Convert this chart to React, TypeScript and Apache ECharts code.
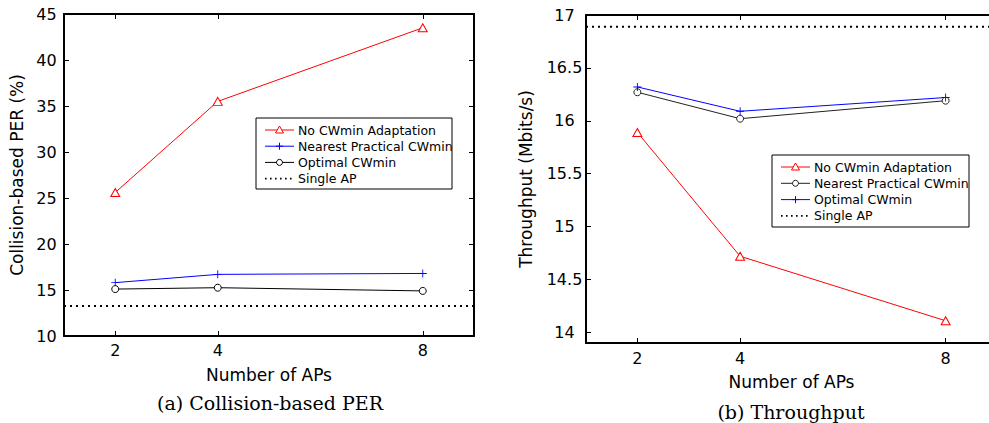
import React, { useEffect, useRef } from "react";
import * as echarts from "echarts";

// ---- data ----
const APS = [2, 4, 8];
const X_MIN = 1;
const X_MAX = 9;

const PER_NO_ADAPT = [25.6, 35.5, 43.5];
const PER_NEAREST = [15.8, 16.7, 16.8];
const PER_OPTIMAL = [15.1, 15.25, 14.9];
const PER_SINGLE_AP = 13.25;
const PER_TICKS = [10, 15, 20, 25, 30, 35, 40, 45];

const THR_NO_ADAPT = [15.89, 14.72, 14.11];
const THR_NEAREST = [16.27, 16.02, 16.19];
const THR_OPTIMAL = [16.32, 16.09, 16.22];
const THR_SINGLE_AP = 16.89;
const THR_TICKS = [14, 14.5, 15, 15.5, 16, 16.5, 17];

const NAME_NO = "No CWmin Adaptation";
const NAME_NEAREST = "Nearest Practical CWmin";
const NAME_OPT = "Optimal CWmin";
const NAME_SINGLE = "Single AP";

const RED = "#ff0000";
const BLUE = "#0000ff";
const BLACK = "#000000";
const DARK = "#222222";

const SANS = "DejaVu Sans";
const SERIF = "DejaVu Serif";

const PLUS_PATH =
  "path://M4.45,0H5.55V4.45H10V5.55H5.55V10H4.45V5.55H0V4.45H4.45Z";

const zip = (xs: number[], ys: number[]) => xs.map((x, i) => [x, ys[i]]);

type Marker = "tri" | "plus" | "circle" | "dot";
interface LegendEntry {
  name: string;
  color: string;
  marker: Marker;
}

function legendGraphic(x: number, y: number, w: number, h: number, entries: LegendEntry[], rowTop: number, rowGap: number) {
  const children: any[] = [
    {
      type: "rect",
      shape: { x: 0, y: 0, width: w, height: h },
      style: { fill: "#fff", stroke: "#000", lineWidth: 1 },
    },
  ];
  entries.forEach((e, i) => {
    const cy = rowTop + i * rowGap;
    const mx = 23.5;
    if (e.marker === "dot") {
      children.push({
        type: "line",
        shape: { x1: 9, y1: cy, x2: 38, y2: cy },
        style: { stroke: e.color, lineWidth: 1.6, lineDash: [1.6, 3.4] },
      });
    } else {
      children.push({
        type: "line",
        shape: { x1: 9, y1: cy, x2: 38, y2: cy },
        style: { stroke: e.color, lineWidth: 1 },
      });
    }
    if (e.marker === "tri") {
      children.push({
        type: "polygon",
        shape: { points: [[mx, cy - 4], [mx + 4, cy + 3], [mx - 4, cy + 3]] },
        style: { fill: "#fff", stroke: e.color, lineWidth: 1 },
      });
    } else if (e.marker === "circle") {
      children.push({
        type: "circle",
        shape: { cx: mx, cy, r: 3 },
        style: { fill: "#fff", stroke: e.color, lineWidth: 1 },
      });
    } else if (e.marker === "plus") {
      children.push({
        type: "line",
        shape: { x1: mx - 3.5, y1: cy, x2: mx + 3.5, y2: cy },
        style: { stroke: e.color, lineWidth: 1 },
      });
      children.push({
        type: "line",
        shape: { x1: mx, y1: cy - 3.5, x2: mx, y2: cy + 3.5 },
        style: { stroke: e.color, lineWidth: 1 },
      });
    }
    children.push({
      type: "text",
      x: 42,
      y: cy,
      style: {
        text: e.name,
        fontSize: 12.5,
        fontFamily: SANS,
        fill: "#000",
        verticalAlign: "middle",
        align: "left",
      },
    });
  });
  return { type: "group", x, y, children };
}

function xAxes(labelMargin: number, nameGap: number) {
  const line = { show: true, onZero: false, lineStyle: { color: "#000", width: 2 } };
  const tick = { show: true, inside: true, length: 5, customValues: APS, lineStyle: { color: "#000", width: 1 } };
  return [
    {
      type: "value",
      min: X_MIN,
      max: X_MAX,
      position: "bottom",
      axisLine: line,
      axisTick: tick,
      axisLabel: { customValues: APS, margin: labelMargin, fontSize: 16, fontFamily: SANS, color: "#000" },
      splitLine: { show: false },
      name: "Number of APs",
      nameLocation: "middle",
      nameGap,
      nameTextStyle: { fontSize: 17, fontFamily: SANS, color: "#000" },
    },
    {
      type: "value",
      min: X_MIN,
      max: X_MAX,
      position: "top",
      axisLine: line,
      axisTick: tick,
      axisLabel: { show: false },
      splitLine: { show: false },
    },
  ];
}

function yAxes(min: number, max: number, ticks: number[], labelMargin: number, name: string, nameGap: number) {
  const line = { show: true, onZero: false, lineStyle: { color: "#000", width: 2 } };
  const tick = { show: true, inside: true, length: 5, customValues: ticks, lineStyle: { color: "#000", width: 1 } };
  return [
    {
      type: "value",
      min,
      max,
      position: "left",
      axisLine: line,
      axisTick: tick,
      axisLabel: {
        customValues: ticks,
        margin: labelMargin,
        align: "center",
        fontSize: 16,
        fontFamily: SANS,
        color: "#000",
      },
      splitLine: { show: false },
      name,
      nameLocation: "middle",
      nameRotate: 90,
      nameGap,
      nameTextStyle: { fontSize: 17, fontFamily: SANS, color: "#000" },
    },
    {
      type: "value",
      min,
      max,
      position: "right",
      axisLine: line,
      axisTick: tick,
      axisLabel: { show: false },
      splitLine: { show: false },
    },
  ];
}

function lineSeries(name: string, xs: number[], ys: number[], color: string, marker: Marker) {
  const base: any = {
    type: "line",
    name,
    data: zip(xs, ys),
    lineStyle: { color, width: 1 },
    itemStyle: { color: "#fff", borderColor: color, borderWidth: 1 },
    emphasis: { disabled: true },
    z: 3,
  };
  if (marker === "tri") {
    base.symbol = "triangle";
    base.symbolSize = [9, 8];
  } else if (marker === "circle") {
    base.symbol = "circle";
    base.symbolSize = 7;
  } else if (marker === "plus") {
    base.symbol = PLUS_PATH;
    base.symbolSize = 8;
    base.itemStyle = { color, borderWidth: 0 };
  }
  return base;
}

function singleApSeries(value: number) {
  return {
    type: "line",
    name: NAME_SINGLE,
    data: [
      [X_MIN, value],
      [X_MAX, value],
    ],
    symbol: "none",
    lineStyle: { color: "#000", width: 2, type: [2, 4] },
    emphasis: { disabled: true },
    z: 2,
  };
}

function buildLeft() {
  return {
    animation: false,
    backgroundColor: "#fff",
    grid: { left: 64, top: 14, width: 410, height: 322, containLabel: false },
    xAxis: xAxes(6, 30),
    yAxis: yAxes(PER_TICKS[0], PER_TICKS[PER_TICKS.length - 1], PER_TICKS, 17.5, "Collision-based PER (%)", 38),
    series: [
      lineSeries(NAME_NO, APS, PER_NO_ADAPT, RED, "tri"),
      lineSeries(NAME_NEAREST, APS, PER_NEAREST, BLUE, "plus"),
      lineSeries(NAME_OPT, APS, PER_OPTIMAL, BLACK, "circle"),
      singleApSeries(PER_SINGLE_AP),
    ],
    graphic: [
      legendGraphic(
        256,
        118,
        196,
        71,
        [
          { name: NAME_NO, color: RED, marker: "tri" },
          { name: NAME_NEAREST, color: BLUE, marker: "plus" },
          { name: NAME_OPT, color: BLACK, marker: "circle" },
          { name: NAME_SINGLE, color: BLACK, marker: "dot" },
        ],
        12,
        16.2
      ),
      {
        type: "text",
        x: 270,
        y: 403,
        style: {
          text: "(a) Collision-based PER",
          fontSize: 19,
          fontFamily: SERIF,
          fill: "#000",
          align: "center",
          verticalAlign: "middle",
        },
      },
    ],
  };
}

function buildRight() {
  return {
    animation: false,
    backgroundColor: "#fff",
    grid: { left: 91, top: 15, width: 411, height: 328, containLabel: false },
    xAxis: xAxes(7.5, 30),
    yAxis: yAxes(13.9, THR_TICKS[THR_TICKS.length - 1], THR_TICKS, 21.5, "Throughput (Mbits/s)", 52),
    series: [
      lineSeries(NAME_NO, APS, THR_NO_ADAPT, RED, "tri"),
      lineSeries(NAME_NEAREST, APS, THR_NEAREST, DARK, "circle"),
      lineSeries(NAME_OPT, APS, THR_OPTIMAL, BLUE, "plus"),
      singleApSeries(THR_SINGLE_AP),
    ],
    graphic: [
      legendGraphic(
        277,
        155,
        197,
        72,
        [
          { name: NAME_NO, color: RED, marker: "tri" },
          { name: NAME_NEAREST, color: DARK, marker: "circle" },
          { name: NAME_OPT, color: BLUE, marker: "plus" },
          { name: NAME_SINGLE, color: BLACK, marker: "dot" },
        ],
        12,
        16.3
      ),
      {
        type: "text",
        x: 296,
        y: 412,
        style: {
          text: "(b) Throughput",
          fontSize: 19,
          fontFamily: SERIF,
          fill: "#000",
          align: "center",
          verticalAlign: "middle",
        },
      },
    ],
  };
}

export default function App() {
  const leftRef = useRef<HTMLDivElement>(null);
  const rightRef = useRef<HTMLDivElement>(null);

  useEffect(() => {
    const l = echarts.init(leftRef.current!, undefined, { renderer: "svg" });
    const r = echarts.init(rightRef.current!, undefined, { renderer: "svg" });
    l.setOption(buildLeft() as any);
    r.setOption(buildRight() as any);
    return () => {
      l.dispose();
      r.dispose();
    };
  }, []);

  return (
    <div
      style={{
        position: "fixed",
        left: 0,
        top: 0,
        width: 989,
        height: 423,
        overflow: "hidden",
        background: "#fff",
      }}
    >
      <div ref={leftRef} style={{ position: "absolute", left: 0, top: 0, width: 495, height: 423 }} />
      <div ref={rightRef} style={{ position: "absolute", left: 495, top: 0, width: 510, height: 423 }} />
    </div>
  );
}
